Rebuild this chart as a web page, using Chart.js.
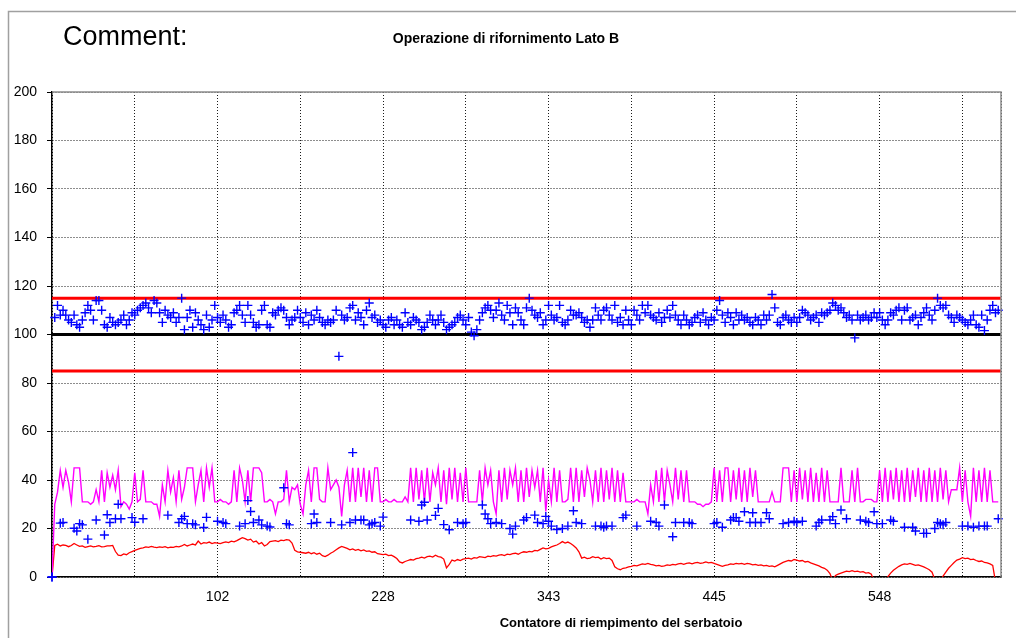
<!DOCTYPE html>
<html>
<head>
<meta charset="utf-8">
<script src="https://cdn.jsdelivr.net/npm/chart.js@4/dist/chart.umd.min.js"></script>
<style>
  html, body { margin: 0; padding: 0; background: #fff; overflow: hidden; }
  canvas { display: block; }
</style>
</head>
<body>
<canvas id="chart" width="1016" height="638"></canvas>
<script>
// ── Dati ─────────────────────────────────────────────────────────────────────
// Asse x: indice del riempimento (0..343), etichette del contatore ogni 60.
const xMax = 344;
const counterLabels = ['102', '228', '343', '445', '548'];

const upperLimit = 115;
const target     = 100;
const lowerLimit = 85;

// Croci blu in alto (una per riempimento)
const fillValues = [
  0, 107, 112, 108, 110, 108, 106, 105, 108, 104,
  103, 106, 109, 112, 110, 106, 114, 114, 110, 104,
  103, 107, 105, 104, 105, 106, 108, 104, 106, 109,
  108, 110, 111, 112, 113, 111, 109, 114, 113, 109,
  105, 110, 108, 107, 109, 105, 107, 115, 102, 107,
  110, 103, 109, 106, 104, 102, 108, 103, 106, 112,
  107, 105, 108, 106, 103, 104, 109, 110, 112, 108,
  105, 112, 108, 105, 103, 104, 110, 112, 104, 103,
  109, 108, 110, 111, 110, 107, 104, 106, 107, 110,
  107, 105, 109, 104, 108, 106, 110, 107, 105, 104,
  106, 105, 106, 110, 91, 108, 106, 107, 111, 112,
  106, 109, 107, 104, 110, 113, 107, 108, 105, 106,
  104, 103, 106, 107, 104, 106, 104, 103, 109, 105,
  104, 107, 106, 105, 102, 103, 105, 108, 106, 104,
  106, 108, 105, 102, 103, 104, 105, 107, 108, 106,
  104, 107, 101, 99.5, 102, 106, 109, 111, 112, 110,
  107, 110, 113, 108, 106, 112, 109, 104, 111, 109,
  106, 104, 111, 115, 110, 108, 107, 109, 104, 106,
  112, 108, 106, 107, 112, 105, 104, 106, 110, 108,
  108, 109, 107, 105, 106, 103, 106, 111, 108, 106,
  110, 111, 108, 106, 112, 105, 107, 104, 110, 106,
  104, 110, 108, 106, 112, 109, 112, 108, 107, 106,
  109, 105, 107, 110, 107, 112, 108, 106, 104, 108,
  106, 104, 105, 107, 108, 105, 109, 106, 104, 107,
  106, 110, 114, 108, 105, 109, 107, 104, 109, 106,
  108, 106, 107, 105, 104, 107, 106, 104, 108, 106,
  108, 116.5, 111, 105, 104, 107, 108, 106, 105, 107,
  105, 107, 110, 109, 108, 106, 107, 108, 105, 109,
  108, 109, 110, 113, 112, 110, 111, 109, 107, 108,
  106, 98.6, 108, 106, 107, 108, 106, 107, 109, 107,
  109, 106, 104, 106, 109, 108, 110, 111, 106, 110,
  111, 106, 107, 108, 104, 107, 109, 111, 108, 106,
  110, 115, 112, 111, 112, 108, 107, 105, 108, 107,
  106, 105, 104, 106, 108, 104, 103, 108, 101.6, 106,
  110, 112, 109, 110
];

// Croci blu in basso (solo alcuni riempimenti)
const lowIdx = [
  0, 3, 4, 8, 9, 10, 11, 13, 16, 19, 20, 21, 23, 24, 25, 29, 30, 33, 42, 46,
  47, 48, 49, 51, 52, 55, 56, 60, 62, 63, 68, 70, 71, 72, 73, 75, 76, 78, 79, 84,
  85, 86, 94, 95, 96, 101, 105, 108, 109, 110, 112, 113, 115, 116, 117, 119, 120, 130, 133, 134,
  135, 136, 139, 140, 142, 144, 147, 149, 150, 156, 157, 158, 159, 161, 163, 166, 167, 168, 171, 172,
  175, 176, 178, 179, 180, 181, 183, 185, 187, 189, 190, 192, 197, 199, 200, 201, 203, 207, 208, 212,
  217, 219, 220, 222, 225, 226, 229, 231, 232, 240, 241, 243, 246, 247, 248, 249, 251, 253, 254, 255,
  257, 259, 260, 265, 267, 269, 270, 272, 277, 278, 279, 282, 283, 284, 286, 288, 293, 295, 296, 298,
  299, 301, 304, 305, 309, 312, 313, 316, 317, 320, 321, 322, 323, 324, 330, 332, 334, 336, 338, 339,
  343
];
const lowVal = [
  0, 22.2, 22.5, 20.1, 19, 22, 21.5, 15.6, 23.5, 17.3, 25.7, 22.5, 24, 30, 24, 24.5, 22.6, 24, 25.5, 22.5,
  24, 25, 22, 22, 21.5, 20.4, 24.6, 23, 22.5, 22, 21, 22, 31.5, 27, 22.5, 23.5, 21.5, 21, 20.6, 36.8,
  22, 21.5, 22, 26, 22.5, 22.5, 21.5, 22.5, 51.3, 23.5, 23.5, 23.5, 21.5, 22, 22.5, 21, 24.7, 23.5, 23, 29.7,
  30.8, 23.5, 25.4, 28.3, 21.6, 19.5, 22.5, 22, 22.5, 29.7, 26, 24, 22, 22.5, 22, 20, 17.7, 21, 23.5, 24.5,
  25.5, 22.5, 22, 25, 23, 21, 19.6, 20, 21, 27.3, 22.5, 22, 21, 21, 20.5, 21, 21, 24.5, 25.5, 21,
  23, 22.5, 21, 29.7, 16.6, 22.5, 22.5, 22.5, 22, 22, 22.5, 20.5, 23.5, 24.5, 24.5, 23, 26.9, 22.5, 26.5, 22.5,
  22.5, 26.5, 24, 22, 22.5, 23, 22.5, 23, 21, 22.5, 23.5, 23.5, 24.9, 22, 27.6, 24, 23.5, 23, 22.5, 26.9,
  22, 22, 23.5, 23, 20.5, 20.5, 19, 18, 18, 20, 22.5, 22, 21.5, 22.5, 21, 21, 20.5, 21, 21, 21,
  24
];

// Linea magenta
const magentaValues = [
  0, 30, 35, 44, 37, 44, 39, 31, 45, 45,
  45, 31, 31, 31, 30, 31, 36, 31, 44, 31,
  43, 37, 42, 36, 44, 29, 31, 30, 28, 31,
  43, 31, 32, 44, 31, 31, 31, 30, 30, 25,
  38, 31, 44, 35, 41, 31, 44, 32, 37, 45,
  45, 45, 31, 38, 44, 31, 45, 37, 45, 31,
  31, 32, 31, 31, 30, 31, 44, 31, 45, 40,
  31, 44, 31, 45, 45, 45, 43, 31, 31, 32,
  31, 26, 31, 31, 32, 44, 31, 37, 36, 38,
  30, 26, 38, 44, 31, 45, 45, 32, 31, 31,
  45, 36, 38, 40, 37, 25, 38, 44, 31, 45,
  31, 45, 33, 45, 31, 44, 31, 45, 45, 31,
  31, 32, 31, 31, 32, 31, 31, 31, 33, 31,
  45, 31, 45, 32, 44, 31, 45, 31, 43, 38,
  45, 31, 44, 30, 45, 32, 45, 31, 43, 31,
  45, 31, 31, 31, 31, 44, 31, 45, 38, 44,
  31, 26, 44, 31, 45, 32, 44, 38, 45, 31,
  44, 31, 45, 33, 44, 37, 44, 31, 45, 27,
  40, 31, 45, 31, 44, 31, 31, 32, 45, 31,
  45, 31, 44, 33, 45, 40, 31, 44, 31, 45,
  31, 44, 32, 45, 31, 44, 31, 43, 31, 31,
  31, 31, 32, 31, 31, 31, 26, 38, 31, 44,
  31, 45, 31, 44, 38, 31, 45, 32, 44, 31,
  44, 31, 31, 31, 30, 30, 29, 30, 30, 31,
  45, 31, 44, 31, 45, 45, 31, 44, 32, 45,
  31, 44, 31, 45, 33, 44, 31, 31, 31, 31,
  31, 35, 31, 31, 31, 45, 45, 45, 31, 44,
  31, 45, 32, 44, 31, 45, 31, 43, 31, 45,
  31, 44, 31, 31, 31, 31, 45, 31, 31, 31,
  44, 31, 45, 31, 31, 32, 32, 32, 31, 31,
  44, 31, 45, 31, 44, 32, 45, 31, 44, 31,
  45, 31, 44, 33, 45, 31, 44, 31, 45, 31,
  44, 31, 45, 32, 44, 31, 36, 36, 36, 45,
  31, 44, 31, 25, 45, 31, 44, 31, 45, 31,
  44, 31, 31, 31
];

// Linea rossa in basso
const redValues = [
  0, 13, 13.5, 12.8, 13.2, 13, 12.5, 13, 13.8, 13.2,
  12.6, 12.8, 12.2, 12.5, 12.8, 12.4, 12.6, 12.9, 12.4, 12.5,
  12.8, 12.8, 13, 10.5, 9, 8.8, 9.5, 9.2, 10, 10.5,
  11, 11.4, 11.8, 12, 12.4, 12.2, 12.6, 12.3, 12.1, 12.4,
  12.2, 12.5, 12, 12.3, 12.2, 12.6, 12.4, 12.8, 13.4, 12.8,
  13.2, 13.6, 13.2, 14.8, 13.6, 14.2, 14, 14.4, 13.8, 14.2,
  14, 13.8, 14.2, 14.5, 14.2, 14.8, 14.5, 15, 15.6, 16.2,
  15.8, 15.2, 15.6, 14.4, 14.8, 13.6, 14.2, 12.8, 13.4, 14.6,
  14.8, 15, 14.6, 15.2, 15, 15.4, 15.2, 14, 11, 10.4,
  10.2, 10, 9.8, 10.2, 9.6, 10, 9.4, 9.8, 8.8, 8.4,
  9, 9.8, 10.4, 11.2, 12, 12.6, 12.2, 11.8, 11.2, 11.6,
  11, 11.4, 10.8, 11.2, 10.6, 10.8, 10.2, 10.4, 9.6, 9.4,
  9.2, 9.4, 8.8, 9, 8.4, 7.6, 6.2, 5.8, 6.4, 6.8,
  7.2, 7, 7.6, 7.8, 8.2, 7.8, 8.4, 8.6, 8.2, 9,
  8.4, 8.2, 7.4, 3.8, 5.2, 7, 6.6, 7.2, 6.8, 7.4,
  7.6, 7.8, 7.4, 8, 7.8, 8.4, 8.2, 8, 8.6, 8.4,
  8.8, 8.6, 9, 9.2, 8.8, 9.4, 9.2, 9.6, 9.8, 9.4,
  10, 10.4, 10.2, 10.6, 10.4, 11, 10.8, 11.4, 12, 11.6,
  11.8, 12.4, 12.8, 13.2, 13.8, 14.6, 14, 14.4, 13.8, 13,
  12, 10.4, 7.8, 8.2, 7.6, 7.8, 8.4, 8, 8.2, 7.4,
  8, 7.6, 7.8, 6.8, 4.2, 3.4, 3, 3.6, 3.8, 4.2,
  4.4, 4.8, 4.6, 5, 5.4, 5.2, 5.6, 5.2, 5, 4.6,
  4.8, 4.4, 4.6, 5, 4.8, 5.2, 5, 5.4, 5.6, 5.2,
  5.6, 5.8, 5.4, 5.8, 6, 5.6, 5.8, 6.2, 5.8, 6,
  5.6, 5.2, 4.8, 4.4, 4.8, 5, 5.4, 5.2, 5.6, 5.4,
  5.6, 5.2, 5.6, 5.4, 5, 5.2, 4.8, 5, 4.6, 4.8,
  4.4, 4.6, 4.2, 4.8, 5.4, 6, 6.4, 6.8, 6.6, 7.2,
  7, 6.6, 6.8, 6.2, 6.4, 5.8, 5.4, 5, 4.6, 4,
  3.6, 2.8, 1.4, -1.5, 0.6, 1.2, 1.6, 2, 2.4, 2.2,
  2.6, 2.2, 2.4, 2, 2.2, 1.6, 1.8, 1.2, -2, -4,
  -5, -4, -2, 0.2, 1.6, 2.8, 3.6, 4.4, 5, 5.4,
  5.2, 5.6, 5.2, 4.8, 5, 4.6, 4.2, 3.6, 3, 2,
  -1, -3, -1.5, 0.4, 2, 3.6, 4.8, 6, 7, 7.4,
  8, 7.6, 7.8, 7.2, 7.4, 6.8, 6.4, 6.6, 6, 5.8,
  5.4, 4.8, -2, -5
];

// ── Costruzione del grafico ──────────────────────────────────────────────────
const FONT = "'Liberation Sans', Arial, sans-serif";
const toXY = arr => arr.map((v, i) => ({ x: i, y: v }));
const hLine = v => [{ x: 0, y: v }, { x: xMax, y: v }];

const decorPlugin = {
  id: 'decor',
  beforeDraw(chart) {
    const ctx = chart.ctx;
    ctx.save();
    ctx.fillStyle = '#fff';
    ctx.fillRect(0, 0, chart.width, chart.height);
    ctx.restore();
  },
  afterDraw(chart) {
    const { ctx, chartArea: a } = chart;
    ctx.save();
    // cornice esterna
    ctx.strokeStyle = '#a0a0a0';
    ctx.lineWidth = 1.5;
    ctx.strokeRect(8.5, 11.5, chart.width + 20, chart.height + 20);
    // bordo superiore e destro dell'area del grafico
    ctx.strokeStyle = '#8c8c8c';
    ctx.lineWidth = 1.5;
    ctx.beginPath();
    ctx.moveTo(a.left, a.top);
    ctx.lineTo(a.right, a.top);
    ctx.lineTo(a.right, a.bottom);
    ctx.stroke();
    // testi
    ctx.fillStyle = '#000';
    ctx.textBaseline = 'alphabetic';
    ctx.textAlign = 'left';
    ctx.font = '27px ' + FONT;
    ctx.fillText('Comment:', 63, 45);
    ctx.textAlign = 'center';
    ctx.font = 'bold 14px ' + FONT;
    ctx.fillText('Operazione di rifornimento Lato B', 506, 43);
    ctx.font = 'bold 13px ' + FONT;
    ctx.fillText('Contatore di riempimento del serbatoio', 621, 627);
    ctx.restore();
  }
};

new Chart(document.getElementById('chart'), {
  type: 'line',
  data: {
    datasets: [
      { data: toXY(fillValues), showLine: false, pointStyle: 'cross', pointRadius: 4.5,
        pointBorderColor: '#0000ff', pointBorderWidth: 1.4, borderColor: '#0000ff', clip: false },
      { data: lowIdx.map((x, i) => ({ x, y: lowVal[i] })), showLine: false, pointStyle: 'cross', pointRadius: 4.5,
        pointBorderColor: '#0000ff', pointBorderWidth: 1.4, borderColor: '#0000ff', clip: false },
      { data: toXY(magentaValues), borderColor: '#ff00ff', borderWidth: 1.4, pointRadius: 0, tension: 0 },
      { data: toXY(redValues), borderColor: '#ff0000', borderWidth: 1.3, pointRadius: 0, tension: 0 },
      { data: hLine(upperLimit), borderColor: '#ff0000', borderWidth: 3, pointRadius: 0 },
      { data: hLine(target), borderColor: '#000000', borderWidth: 3, pointRadius: 0 },
      { data: hLine(lowerLimit), borderColor: '#ff0000', borderWidth: 3, pointRadius: 0 }
    ]
  },
  options: {
    responsive: false, animation: false, devicePixelRatio: 1,
    layout: { padding: { top: 92, right: 15, left: 0, bottom: 0 } },
    plugins: { legend: { display: false }, title: { display: false }, tooltip: { enabled: false } },
    scales: {
      x: {
        type: 'linear', min: 0, max: xMax,
        afterFit: s => { s.height = 61; },
        ticks: {
          stepSize: 30, autoSkip: false, maxRotation: 0, padding: 12,
          color: '#000', font: { family: FONT, size: 14 },
          callback: v => (v > 0 && v % 60 === 0) ? counterLabels[v / 60 - 1] : ''
        },
        grid: { color: '#1a1a1a', lineWidth: 1, drawTicks: false },
        border: { display: true, color: '#000', width: 1.5, dash: [1, 2] }
      },
      y: {
        min: 0, max: 200,
        afterFit: s => { s.width = 52; },
        ticks: { stepSize: 20, padding: 10, color: '#000', font: { family: FONT, size: 14 } },
        grid: { color: '#1a1a1a', lineWidth: 1, tickLength: 5, tickColor: '#000', tickBorderDash: [] },
        border: { display: true, color: '#000', width: 1.5, dash: [1, 2] }
      }
    }
  },
  plugins: [decorPlugin]
});
</script>
</body>
</html>
